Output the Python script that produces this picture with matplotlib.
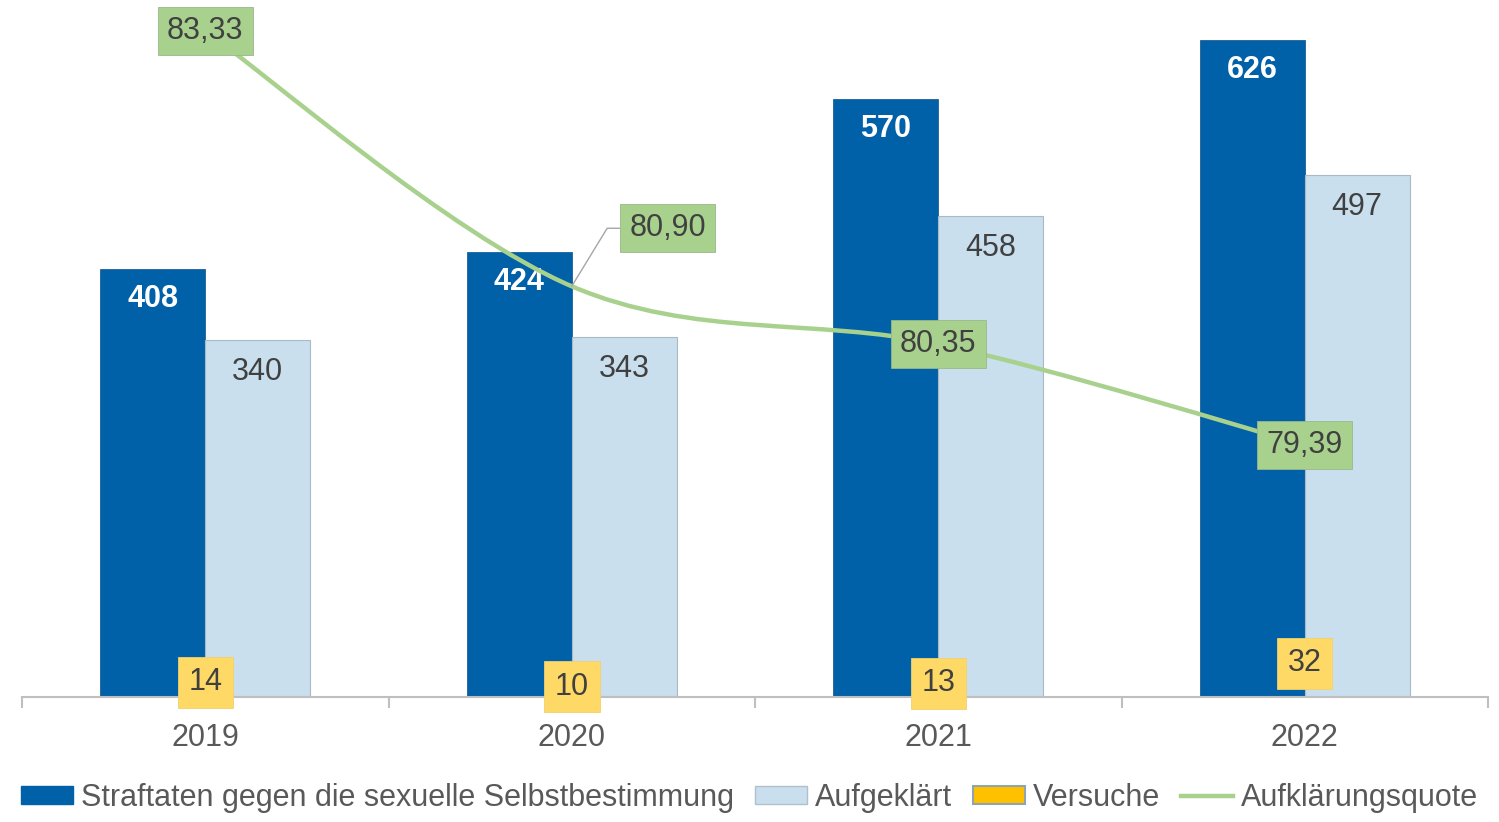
import matplotlib
matplotlib.use("Agg")
import matplotlib.pyplot as plt
from matplotlib.path import Path
from matplotlib.patches import PathPatch, Patch
from matplotlib.lines import Line2D

plt.rcParams['font.family'] = ['Liberation Sans', 'DejaVu Sans']

# Data
years = ['2019', '2020', '2021', '2022']
straftaten = [408, 424, 570, 626]
aufgeklaert = [340, 343, 458, 497]
versuche = [14, 10, 13, 32]
quote = [83.33, 80.90, 80.35, 79.39]

DARK = '#0060A8'
LIGHT = '#C9DFEE'
YELLOW = '#FFD966'
GREEN = '#A9D18E'
TEXT = '#404040'
GREY = '#595959'
AXIS = '#BFBFBF'
FS = 22

fig = plt.figure(figsize=(14.99, 8.22), dpi=100)
ax = fig.add_axes([22 / 1499, 125 / 822, 1466 / 1499, 687 / 822])
ax2 = ax.twinx()

x = list(range(len(years)))
w = 0.286

# Bars
ax.bar([i - w / 2 for i in x], straftaten, width=w, color=DARK,
       edgecolor='#1f5f95', linewidth=0.6, zorder=2)
ax.bar([i + w / 2 for i in x], aufgeklaert, width=w, color=LIGHT,
       edgecolor='#a9b9c6', linewidth=0.8, zorder=2)
ax.bar(x, versuche, width=0.0, color='#FFC000', zorder=2)

for i in x:
    ax.annotate(str(straftaten[i]), (i - w / 2, straftaten[i]), xytext=(0, -30),
                textcoords='offset pixels', ha='center', va='center',
                fontsize=FS, fontweight='bold', color='white', zorder=5)
    ax.annotate(str(aufgeklaert[i]), (i + w / 2, aufgeklaert[i]), xytext=(0, -32),
                textcoords='offset pixels', ha='center', va='center',
                fontsize=FS, color=TEXT, zorder=5)
    ax.text(i, versuche[i], str(versuche[i]), ha='center', va='center',
            fontsize=FS, color=TEXT, zorder=6,
            bbox=dict(boxstyle='square,pad=0.35', fc=YELLOW, ec='#f0d070', lw=0.6))

ax.set_xlim(-0.5, 3.5)
ax.set_ylim(0, 654.6)
for s in ['top', 'right', 'left']:
    ax.spines[s].set_visible(False)
ax.spines['bottom'].set_color(AXIS)
ax.spines['bottom'].set_linewidth(1.5)
ax.set_yticks([])
ax.set_xticks(x)
ax.set_xticklabels(years, fontsize=FS, color=GREY)
ax.tick_params(axis='x', which='major', length=0, pad=19)
ax.set_xticks([-0.5, 0.5, 1.5, 2.5, 3.5], minor=True)
ax.tick_params(axis='x', which='minor', length=8, width=1.5, color=AXIS)

# Smoothed line (Catmull-Rom style bezier through the data points)
pts = list(zip(x, quote))
verts = [pts[0]]
codes = [Path.MOVETO]
n = len(pts)
for k in range(n - 1):
    p0 = pts[k - 1] if k > 0 else pts[k]
    p1 = pts[k]
    p2 = pts[k + 1]
    p3 = pts[k + 2] if k + 2 < n else pts[k + 1]
    c1 = (p1[0] + (p2[0] - p0[0]) / 6, p1[1] + (p2[1] - p0[1]) / 6)
    c2 = (p2[0] - (p3[0] - p1[0]) / 6, p2[1] - (p3[1] - p1[1]) / 6)
    verts += [c1, c2, p2]
    codes += [Path.CURVE4] * 3
ax2.add_patch(PathPatch(Path(verts, codes), fc='none', ec=GREEN, lw=3.2,
                        capstyle='round', zorder=3))
ax2.set_ylim(76.99, 83.53)
ax2.axis('off')

lbl = [f'{v:.2f}'.replace('.', ',') for v in quote]
gbox = dict(boxstyle='square,pad=0.3', fc=GREEN, ec='#98b88a', lw=0.6)
for i in x:
    if i == 1:
        ax2.annotate(lbl[i], (i, quote[i]), xytext=(96, 58), textcoords='offset pixels',
                     ha='center', va='center', fontsize=FS, color=TEXT, bbox=gbox, zorder=6,
                     arrowprops=dict(arrowstyle='-', color='#a6a6a6', lw=1,
                                     shrinkA=0, shrinkB=0, relpos=(0, 0.5),
                                     connectionstyle='angle,angleA=0,angleB=58.6,rad=0'))
    else:
        ax2.text(i, quote[i], lbl[i], ha='center', va='center', fontsize=FS,
                 color=TEXT, bbox=gbox, zorder=6)

handles = [Patch(fc=DARK, ec=DARK), Patch(fc=LIGHT, ec='#b0c0cc'),
           Patch(fc='#FFC000', ec='#8EA4AE', lw=1.5),
           Line2D([], [], color=GREEN, lw=3.2)]
names = ['Straftaten gegen die sexuelle Selbstbestimmung', 'Aufgeklärt', 'Versuche',
         'Aufklärungsquote']
fig.legend(handles, names, loc='center', bbox_to_anchor=(0.5, 24 / 822), ncol=4,
           frameon=False, fontsize=FS, labelcolor=GREY, handlelength=1.7,
           handleheight=0.55, handletextpad=0.25, columnspacing=0.7, borderaxespad=0)

fig.savefig('out.png', dpi=100)
